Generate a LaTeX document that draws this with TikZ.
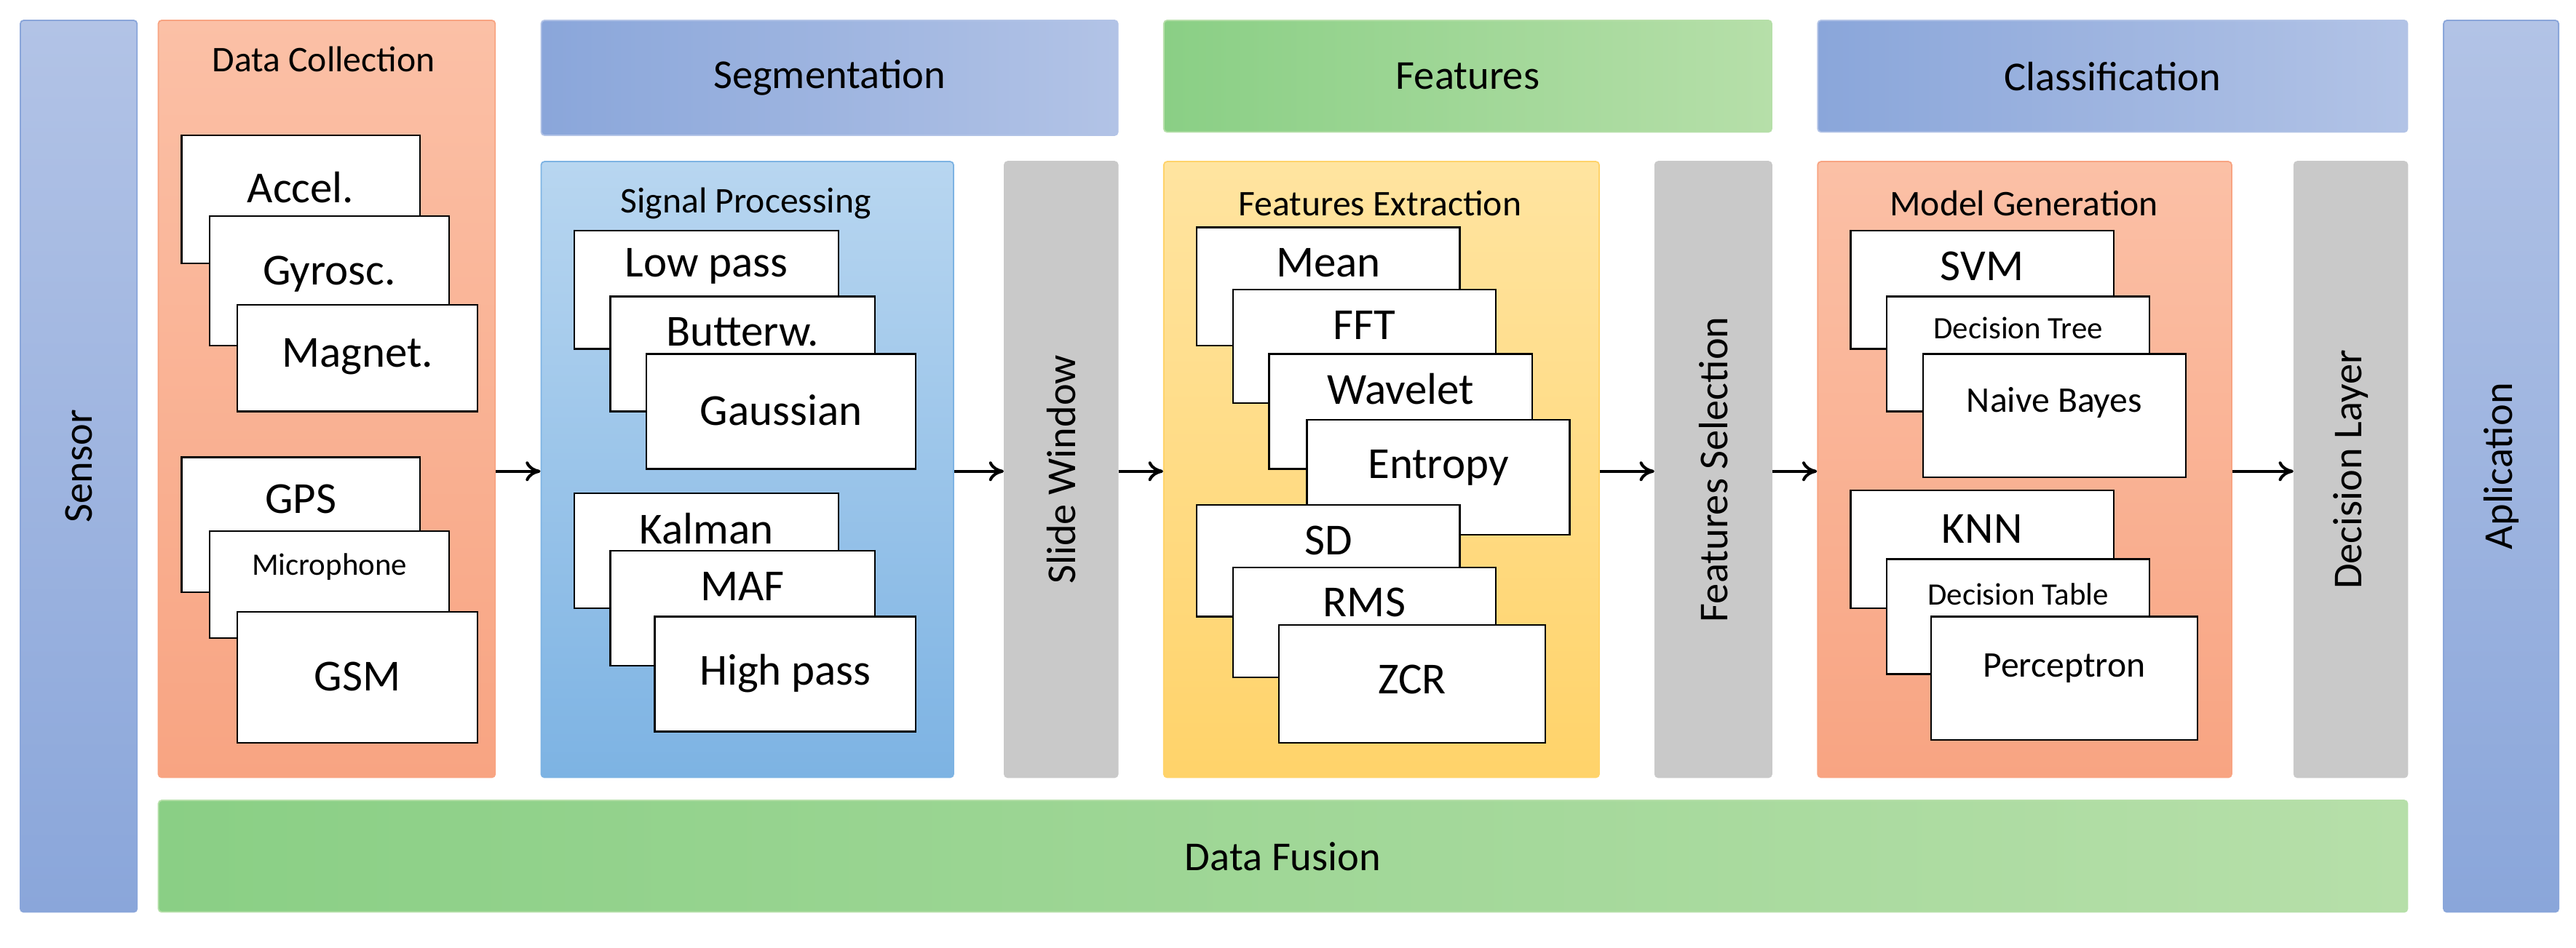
\documentclass[tikz,border=0pt]{standalone}
\usepackage{fontspec}
\setmainfont{Carlito}
\usetikzlibrary{arrows.meta}
\newcommand\card[8]{\node[card,anchor=north west,minimum width=#4pt,minimum height=#5pt,label={[font=\fontsize{#7}{#7}\selectfont,anchor=center,yshift=-#6pt]north:#8}] (#1) at (#2,#3) {};}
\definecolor{orA}{HTML}{FBC0A6}\definecolor{orB}{HTML}{F8A482}
\definecolor{blA}{HTML}{8AA6DA}\definecolor{blB}{HTML}{B2C3E6}
\definecolor{grA}{HTML}{8ACF85}\definecolor{grB}{HTML}{B6DFA9}
\definecolor{spA}{HTML}{B8D6F0}\definecolor{spB}{HTML}{7DB3E3}
\definecolor{yeA}{HTML}{FFE4A0}\definecolor{yeB}{HTML}{FFD36A}
\definecolor{gy}{HTML}{C9C9C9}
\tikzset{
 box/.style={draw=#1,line width=0.8pt,rounded corners=2pt,inner sep=0pt,anchor=north west},
 card/.style={draw=black,fill=white,line width=1pt,inner sep=0pt},
 arr/.style={-{To[length=9pt,width=12pt]},line width=1.8pt},
 vt/.style={rotate=90,font=\fontsize{25}{25}\selectfont},
 tt/.style={font=\fontsize{22}{22}\selectfont},
 ht/.style={font=\fontsize{25}{25}\selectfont}
}
\begin{document}
\begin{tikzpicture}[x=1pt,y=-1pt]
\useasboundingbox (0,0) rectangle (1568,577);
% sensor / application
\node[box=blA,top color=blB,bottom color=blA,minimum width=71pt,minimum height=543pt] (sensor) at (12,12) {};
\node[vt] at (sensor.center) {Sensor};
\node[box=blA,top color=blB,bottom color=blA,minimum width=70pt,minimum height=543pt] (app) at (1487,12) {};
\node[vt] at (app.center) {Aplication};
% headers
\node[box=blB,left color=blA,right color=blB,minimum width=351pt,minimum height=70pt] (seg) at (329,12) {};
\node[ht] at (seg.center) {Segmentation};
\node[box=grB,left color=grA,right color=grB,minimum width=370pt,minimum height=68pt] (feat) at (708,12) {};
\node[ht] at (feat.center) {Features};
\node[box=blB,left color=blA,right color=blB,minimum width=359pt,minimum height=68pt] (cls) at (1106,12) {};
\node[ht] at (cls.center) {Classification};
\node[box=grB,left color=grA,right color=grB,minimum width=1369pt,minimum height=68pt] (fus) at (96,487) {};
\node[ht] at (fus.center) {Data Fusion};
% big boxes
\node[box=orB,top color=orA,bottom color=orB,minimum width=205pt,minimum height=461pt] (dc) at (96,12) {};
\node[tt] at (197,36) {Data Collection};
\node[box=spB,top color=spA,bottom color=spB,minimum width=251pt,minimum height=375pt] (sp) at (329,98) {};
\node[tt] at (454,124) {Signal Processing};
\node[box=gy,fill=gy,minimum width=69pt,minimum height=375pt] (sw) at (611,98) {};
\node[vt] at (sw.center) {Slide Window};
\node[box=yeB,top color=yeA,bottom color=yeB,minimum width=265pt,minimum height=375pt] (fe) at (708,98) {};
\node[tt] at (840,124) {Features Extraction};
\node[box=gy,fill=gy,minimum width=71pt,minimum height=375pt] (fs) at (1007,98) {};
\node[vt] at (fs.center) {Features Selection};
\node[box=orB,top color=orA,bottom color=orB,minimum width=252pt,minimum height=375pt] (mg) at (1106,98) {};
\node[tt] at (1232,124) {Model Generation};
\node[box=gy,fill=gy,minimum width=69pt,minimum height=375pt] (dl) at (1396,98) {};
\node[vt] at (dl.center) {Decision Layer};
% cards data collection
\card{c1}{110}{82}{145}{78}{32}{27}{Accel.}
\card{c2}{127}{131}{146}{79}{36}{27}{Gyrosc.}
\card{c3}{144}{185}{146}{65}{32}{27}{Magnet.}
\card{c4}{110}{278}{145}{82}{26}{27}{GPS}
\card{c5}{127}{323}{146}{65}{22}{19}{Microphone}
\card{c6}{144}{372}{146}{80}{40}{27}{GSM}
% signal processing
\card{s1}{349}{140}{161}{72}{22}{27}{Low pass}
\card{s2}{371}{180}{161}{70}{22}{27}{Butterw.}
\card{s3}{393}{215}{164}{70}{35}{27}{Gaussian}
\card{s4}{349}{300}{161}{70}{22}{27}{Kalman}
\card{s5}{371}{335}{161}{70}{22}{27}{MAF}
\card{s6}{398}{375}{159}{70}{35}{27}{High pass}
% features
\card{f1}{728}{138}{160}{72}{22}{27}{Mean}
\card{f2}{750}{176}{160}{69}{22}{27}{FFT}
\card{f3}{772}{215}{160}{70}{22}{27}{Wavelet}
\card{f4}{795}{255}{160}{70}{30}{27}{Entropy}
\card{f5}{728}{307}{160}{68}{22}{27}{SD}
\card{f6}{750}{345}{160}{67}{22}{27}{RMS}
\card{f7}{778}{380}{162}{72}{34}{27}{ZCR}
% model
\card{m1}{1126}{140}{160}{72}{22}{27}{SVM}
\card{m2}{1148}{180}{160}{70}{20}{19}{Decision Tree}
\card{m3}{1170}{215}{160}{75}{30}{22}{Naive Bayes}
\card{m4}{1126}{298}{160}{72}{24}{27}{KNN}
\card{m5}{1148}{340}{160}{70}{22}{19}{Decision Table}
\card{m6}{1175}{375}{162}{75}{32}{22}{Perceptron}
% arrows
\coordinate (ay) at (0,287);
\draw[arr] (dc.east|-ay) -- (sp.west|-ay);
\draw[arr] (sp.east|-ay) -- (sw.west|-ay);
\draw[arr] (sw.east|-ay) -- (fe.west|-ay);
\draw[arr] (fe.east|-ay) -- (fs.west|-ay);
\draw[arr] (fs.east|-ay) -- (mg.west|-ay);
\draw[arr] (mg.east|-ay) -- (dl.west|-ay);
\end{tikzpicture}
\end{document}
